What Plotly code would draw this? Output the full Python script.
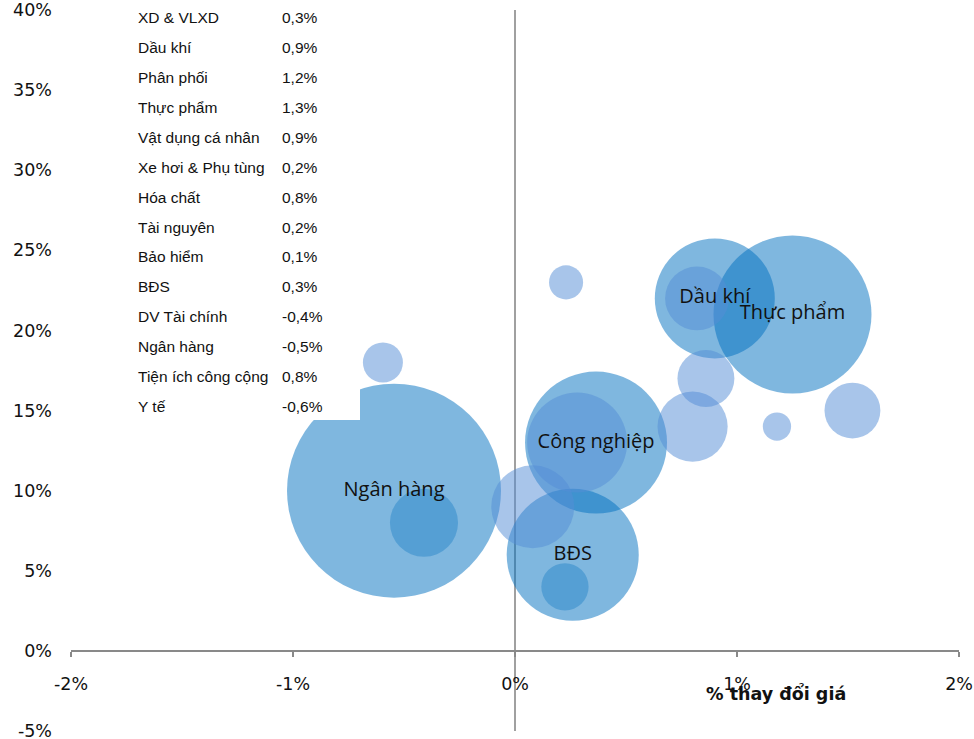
import plotly.graph_objects as go

# ---------------- data ----------------
# Large (labelled) bubbles
big_names = ["Ngân hàng", "BĐS", "Công nghiệp", "Dầu khí", "Thực phẩm"]
big_x = [-0.545, 0.26, 0.365, 0.90, 1.25]        # % thay đổi giá
big_y = [10.0, 6.0, 13.0, 22.0, 21.0]            # %
big_val = [114.5, 43.6, 50.4, 36.0, 62.4]        # bubble size value

# Smaller bubbles
small_x = [-0.41, -0.595, 0.23, 0.08, 0.225, 0.28, 0.80, 0.86, 0.82, 1.18, 1.52]
small_y = [8.0, 18.0, 23.0, 9.0, 4.0, 13.0, 14.0, 17.0, 22.0, 14.0, 15.0]
small_val = [11.6, 4.0, 2.9, 17.2, 5.6, 25.0, 12.3, 8.1, 10.2, 2.0, 7.8]
small_group = ["dark", "light", "light", "light", "dark", "light", "light",
               "light", "light", "light", "light"]

# Table in the top-left corner
sectors = ["XD & VLXD", "Dầu khí", "Phân phối", "Thực phẩm", "Vật dụng cá nhân",
           "Xe hơi & Phụ tùng", "Hóa chất", "Tài nguyên", "Bảo hiểm", "BĐS",
           "DV Tài chính", "Ngân hàng", "Tiện ích công cộng", "Y tế"]
changes = [0.3, 0.9, 1.2, 1.3, 0.9, 0.2, 0.8, 0.2, 0.1, 0.3, -0.4, -0.5, 0.8, -0.6]

x_tickvals = [-2, -1, 0, 1, 2]
x_ticktext = ["-2%", "-1%", "0%", "1%", "2%"]
y_tickvals = [-5, 0, 5, 10, 15, 20, 25, 30, 35, 40]
y_ticktext = ["-5%", "0%", "5%", "10%", "15%", "20%", "25%", "30%", "35%", "40%"]
x_title = "% thay đổi giá"

# ---------------- styling ----------------
W, H = 974, 739
ML, MR, MT, MB = 71, 15, 10, 8
PW, PH = W - ML - MR, H - MT - MB

MED = "rgba(0,112,192,0.5)"
LIGHT = "rgba(85,142,213,0.51)"
DARK = "rgba(0,112,192,0.33)"
SIZEREF = 0.005

fig = go.Figure()

fig.add_trace(go.Scatter(
    x=big_x, y=big_y, mode="markers",
    marker=dict(size=big_val, sizemode="area", sizeref=SIZEREF, opacity=1,
                color=MED, line=dict(width=0)),
    hoverinfo="skip", showlegend=False))

fig.add_trace(go.Scatter(
    x=small_x, y=small_y, mode="markers",
    marker=dict(size=small_val, sizemode="area", sizeref=SIZEREF, opacity=1,
                color=[DARK if g == "dark" else LIGHT for g in small_group],
                line=dict(width=0)),
    hoverinfo="skip", showlegend=False))

fig.add_trace(go.Scatter(
    x=big_x, y=big_y, mode="text", text=big_names,
    textposition="middle center",
    textfont=dict(family="Open Sans", size=20, color="#111111"),
    hoverinfo="skip", showlegend=False))

# figure pixel -> paper coordinates
def px_to_paper_x(px):
    return (px - ML) / PW

def px_to_paper_y(py):
    return (H - MB - py) / PH

# white box behind the table
fig.add_shape(type="rect", xref="paper", yref="paper",
              x0=px_to_paper_x(125), x1=px_to_paper_x(360),
              y0=px_to_paper_y(420), y1=px_to_paper_y(-5),
              fillcolor="white", line=dict(width=0), layer="above")

for i, (s, v) in enumerate(zip(sectors, changes)):
    yc = px_to_paper_y(18 + 29.86 * i)
    fig.add_annotation(xref="paper", yref="paper", x=px_to_paper_x(136), y=yc,
                       text=s, showarrow=False, xanchor="left", yanchor="middle",
                       font=dict(family="Liberation Sans", size=15.5, color="#111111"))
    fig.add_annotation(xref="paper", yref="paper", x=px_to_paper_x(280), y=yc,
                       text=f"{v:.1f}".replace(".", ",") + "%", showarrow=False,
                       xanchor="left", yanchor="middle",
                       font=dict(family="Liberation Sans", size=15.5, color="#111111"))

fig.add_annotation(xref="paper", yref="paper", x=px_to_paper_x(776), y=px_to_paper_y(693),
                   text="<b>" + x_title + "</b>", showarrow=False,
                   xanchor="center", yanchor="middle",
                   font=dict(family="DejaVu Sans", size=17.5, color="#111111"))

fig.update_layout(
    width=W, height=H,
    margin=dict(l=ML, r=MR, t=MT, b=MB, pad=0, autoexpand=False),
    paper_bgcolor="white", plot_bgcolor="white",
    showlegend=False,
    xaxis=dict(range=[-2, 2], tickvals=x_tickvals, ticktext=x_ticktext,
               anchor="free", position=5 / 45, automargin=False,
               showline=True, linecolor="#898989", linewidth=2,
               ticks="outside", ticklen=5, tickwidth=2, tickcolor="#898989",
               ticklabelstandoff=12, ticklabeloverflow="allow",
               tickfont=dict(family="DejaVu Sans", size=17.5, color="#111111"),
               showgrid=False, zeroline=True, zerolinecolor="#a0a0a0", zerolinewidth=2),
    yaxis=dict(range=[-5, 40], tickvals=y_tickvals, ticktext=y_ticktext,
               automargin=False, ticklabeloverflow="allow",
               showline=False, ticks="", ticklabelstandoff=18,
               tickfont=dict(family="DejaVu Sans", size=17.5, color="#111111"),
               showgrid=False, zeroline=False),
)

fig.write_html("out.html",
               config={"displayModeBar": False, "staticPlot": True},
               post_script="document.body.style.margin='0';document.body.style.overflow='hidden';")
